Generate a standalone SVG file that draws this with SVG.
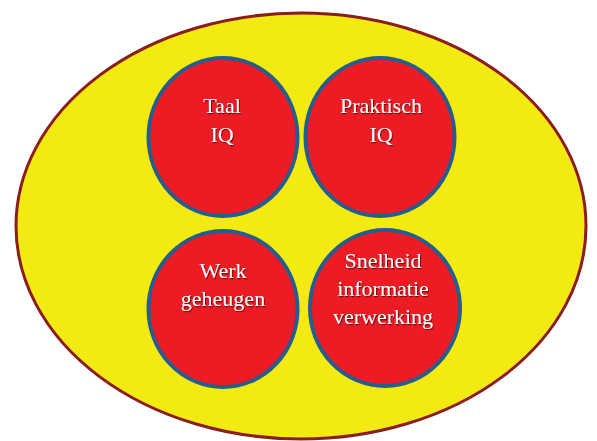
<svg xmlns="http://www.w3.org/2000/svg" width="597" height="441" viewBox="0 0 597 441">
  <defs>
    <filter id="sh" x="-20%" y="-20%" width="140%" height="140%">
      <feDropShadow dx="1" dy="1.2" stdDeviation="0.6" flood-color="#000" flood-opacity="0.55"/>
    </filter>
  </defs>
  <style>
    .outer { fill: #F2EA10; stroke: #8B1D1D; stroke-width: 3; }
    .node { fill: #ED1C24; stroke: #245D8E; stroke-width: 4; }
    .lbl { fill: #FFFFFF; font-family: "Liberation Serif", "Times New Roman", serif; font-size: 22px; text-anchor: middle; filter: url(#sh); }
  </style>
  <rect width="597" height="441" fill="#FFFFFF"/>
  <g id="background">
    <ellipse class="outer" cx="301" cy="226" rx="285" ry="213"/>
  </g>
  <g id="connectors"></g>
  <g id="taal-iq">
    <ellipse class="node" cx="223" cy="137" rx="74.5" ry="79"/>
    <text class="lbl" x="222" y="113">Taal</text>
    <text class="lbl" x="222" y="142">IQ</text>
  </g>
  <g id="praktisch-iq">
    <ellipse class="node" cx="380" cy="137" rx="74.5" ry="79"/>
    <text class="lbl" x="381" y="113">Praktisch</text>
    <text class="lbl" x="381" y="142">IQ</text>
  </g>
  <g id="werk-geheugen">
    <ellipse class="node" cx="223" cy="309" rx="74.5" ry="78"/>
    <text class="lbl" x="223" y="278">Werk</text>
    <text class="lbl" x="223" y="306">geheugen</text>
  </g>
  <g id="snelheid">
    <ellipse class="node" cx="385" cy="308" rx="75" ry="78"/>
    <text class="lbl" x="383" y="268">Snelheid</text>
    <text class="lbl" x="383" y="296">informatie</text>
    <text class="lbl" x="383" y="324">verwerking</text>
  </g>
</svg>
